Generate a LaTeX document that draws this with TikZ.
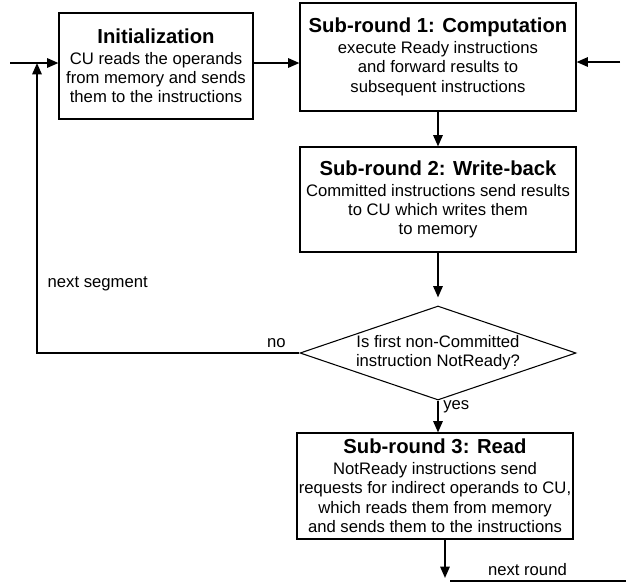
\documentclass[tikz,border=0pt]{standalone}
\usepackage{fontspec}
\setmainfont{Liberation Sans}
\usetikzlibrary{arrows.meta,shapes.geometric,positioning}
\newcommand{\hd}[1]{{\fontsize{15.2}{18}\selectfont\bfseries #1}}

\begin{document}
\begin{tikzpicture}[x=0.75pt,y=-0.75pt,
	box/.style={draw,line width=0.8pt,align=center,inner sep=0pt,minimum width=207pt,minimum height=80pt,font=\fontsize{12.5}{14.5}\selectfont},
	arr/.style={line width=1.4pt,-{Triangle[length=8.5pt,width=7pt]}},
	lbl/.style={font=\fontsize{12.5}{14.5}\selectfont}]
	\useasboundingbox (0,0) rectangle (626,583);
	\node[box,minimum width=145.5pt,minimum height=79.5pt] (init) at (156,66) {\hd{Initialization}\\[1pt]CU reads the operands\\from memory and sends\\them to the instructions};
	\node[box,minimum height=81pt] (comp) at (438,57) {\hd{Sub-round 1: Computation}\\[1pt]execute Ready instructions\\and forward results to\\subsequent instructions};
	\node[box,minimum height=78.75pt] (wb) at (438,199.5) {\hd{Sub-round 2: Write-back}\\[1pt]Committed instructions send results\\to CU which writes them\\to memory};
	\node[box,shape=diamond,aspect=2.94,minimum height=70.5pt] (check) at (438,353) {Is first non-Committed\\instruction NotReady?};
	\node[box,minimum height=79.5pt] (read) at (435,486) {\hd{Sub-round 3: Read}\\[1pt]NotReady instructions send\\requests for indirect operands to CU,\\which reads them from memory\\and sends them to the instructions};
	\coordinate (in) at (10,63);
	\coordinate (join) at (37,63);
	\coordinate (back) at (620,62);
	\coordinate (down) at (445,578);
	\coordinate (nr1) at (450,581);
	\coordinate (nr2) at (626,581);
	\draw[arr] (in) -- (in -| init.west);
	\draw[arr] (in -| init.east) -- (in -| comp.west);
	\draw[arr] (back) -- (back -| comp.east);
	\draw[arr] (comp) -- (wb);
	\draw[arr,shorten >=6pt] (wb) -- (check);
	\draw[arr] (check.south) -- node[lbl,right,pos=0.2]{yes} (check.south |- read.north);
	\draw[arr] (check.west) -| node[lbl,above,pos=0.044]{no} node[lbl,right,pos=0.62,xshift=4pt]{next segment} (join);
	\draw[arr] (read.south -| down) -- (down);
	\draw[line width=1pt] (nr1) -- node[lbl,above,pos=0.44]{next round} (nr2);
\end{tikzpicture}
\end{document}
